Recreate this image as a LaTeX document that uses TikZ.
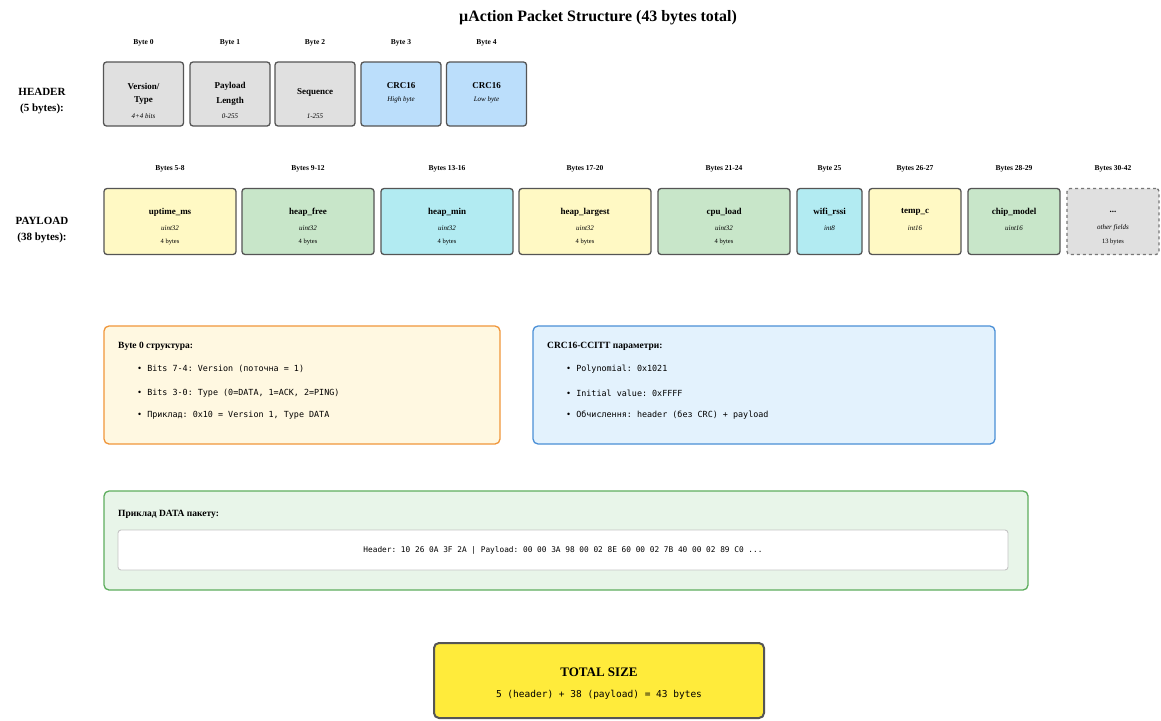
\documentclass[tikz,border=0pt]{standalone}
\usepackage{fontspec}
\setmainfont{Liberation Serif}
\setmonofont{DejaVu Sans Mono}
\begin{document}
\begin{tikzpicture}[x=1pt,y=-1pt,
  field/.style={draw=boxborder, line width=1.3pt, rounded corners=3pt, inner sep=0pt},
  hfield/.style={field, minimum width=80pt, minimum height=64pt},
  pfield/.style={field, minimum height=66pt},
  bytelbl/.style={font=\bfseries\fontsize{7.5}{8}\selectfont, inner sep=0pt},
  fname/.style={font=\bfseries\fontsize{9}{10}\selectfont, inner sep=0pt},
  ftype/.style={font=\itshape\fontsize{7}{8}\selectfont, inner sep=0pt},
  fsize/.style={font=\fontsize{6.5}{7}\selectfont, inner sep=0pt},
  rowlbl/.style={font=\bfseries\fontsize{11}{16}\selectfont, align=center, inner sep=0pt},
  infobox/.style={rounded corners=5pt, line width=1.3pt, inner sep=0pt},
  infotitle/.style={font=\bfseries\fontsize{9.5}{11}\selectfont, anchor=west, inner sep=0pt},
  bullet/.style={font=\ttfamily\fontsize{8.4}{10}\selectfont, anchor=west, inner sep=0pt},
]
\definecolor{boxborder}{HTML}{555555}
\definecolor{greyfill}{HTML}{E0E0E0}
\definecolor{bluefill}{HTML}{BBDEFB}
\definecolor{yellowfill}{HTML}{FFF9C4}
\definecolor{greenfill}{HTML}{C8E6C9}
\definecolor{cyanfill}{HTML}{B2EBF2}
\definecolor{creamfill}{HTML}{FFF8E1}
\definecolor{orangeborder}{HTML}{F0963A}
\definecolor{lightblue}{HTML}{E3F2FD}
\definecolor{blueborder}{HTML}{4A8FD6}
\definecolor{lightgreen}{HTML}{E8F5E9}
\definecolor{greenborder}{HTML}{5EAE5E}
\definecolor{codeborder}{HTML}{C4C4C4}
\definecolor{totalfill}{HTML}{FFEB3B}

\useasboundingbox[fill=white] (0,0) rectangle (1161,720);

% title
\node[font=\bfseries\fontsize{15.9}{18}\selectfont, inner sep=0pt] (title) at (598,18) {µAction Packet Structure (43 bytes total)};

% ---- header row ----
\node[rowlbl] (hdrlbl) at (42,101) {HEADER\\(5 bytes):};

\node[hfield, fill=greyfill] (h0) at (143.5,94) {};
\node[hfield, fill=greyfill] (h1) at (230,94) {};
\node[hfield, fill=greyfill] (h2) at (315,94) {};
\node[hfield, fill=bluefill] (h3) at (401,94) {};
\node[hfield, fill=bluefill] (h4) at (486.5,94) {};

\foreach \n/\t in {h0/Byte 0, h1/Byte 1, h2/Byte 2, h3/Byte 3, h4/Byte 4}
  \node[bytelbl] (\n-lbl) at (\n.center |- 0,43) {\t};

% text lines inside the header fields (yshift is upward)
\node[fname] (h0-a) at ([yshift=8pt]h0.center) {Version/};
\node[fname] (h0-b) at ([yshift=-7pt]h0.center) {Type};
\node[ftype] (h0-c) at ([yshift=-22pt]h0.center) {4+4 bits};
\node[fname] (h1-a) at ([yshift=8pt]h1.center) {Payload};
\node[fname] (h1-b) at ([yshift=-7pt]h1.center) {Length};
\node[ftype] (h1-c) at ([yshift=-22pt]h1.center) {0-255};
\node[fname] (h2-a) at ([yshift=2pt]h2.center) {Sequence};
\node[ftype] (h2-c) at ([yshift=-22pt]h2.center) {1-255};
\node[fname] (h3-a) at ([yshift=8pt]h3.center) {CRC16};
\node[ftype] (h3-b) at ([yshift=-6pt]h3.center) {High byte};
\node[fname] (h4-a) at ([yshift=8pt]h4.center) {CRC16};
\node[ftype] (h4-b) at ([yshift=-6pt]h4.center) {Low byte};

% ---- payload row ----
\node[rowlbl] (pldlbl) at (42,230) {PAYLOAD\\(38 bytes):};

\foreach \n/\x/\w/\c/\lbl/\nm/\ty/\sz in {
    p0/170/132/yellowfill/Bytes 5-8/uptime\_ms/uint32/4 bytes,
    p1/308/132/greenfill/Bytes 9-12/heap\_free/uint32/4 bytes,
    p2/447/132/cyanfill/Bytes 13-16/heap\_min/uint32/4 bytes,
    p3/585/132/yellowfill/Bytes 17-20/heap\_largest/uint32/4 bytes,
    p4/724/132/greenfill/Bytes 21-24/cpu\_load/uint32/4 bytes,
    p5/829.5/65/cyanfill/Byte 25/wifi\_rssi/int8/,
    p6/915/92/yellowfill/Bytes 26-27/temp\_c/int16/,
    p7/1014/92/greenfill/Bytes 28-29/chip\_model/uint16/}
{
  \node[pfield, fill=\c, minimum width=\w pt] (\n) at (\x,221.5) {};
  \node[bytelbl] (\n-lbl) at (\x,169) {\lbl};
  \node[fname] (\n-name) at (\x,212) {\nm};
  \node[ftype] (\n-type) at (\x,228) {\ty};
  \node[fsize] (\n-size) at (\x,242) {\sz};
}
\node[pfield, fill=greyfill, dashed, draw=boxborder!80, minimum width=92pt] (p8) at (1113,221.5) {};
\node[bytelbl] (p8-lbl) at (1113,169) {Bytes 30-42};
\node[fname] (p8-name) at (1113,212) {...};
\node[ftype] (p8-type) at (1113,228) {other fields};
\node[fsize] (p8-size) at (1113,242) {13 bytes};

% ---- byte 0 notes ----
\node[infobox, draw=orangeborder, fill=creamfill, minimum width=396pt, minimum height=118pt] (b0box) at (302,385) {};
\node[infotitle] (b0title) at (118,346) {Byte 0 структура:};
\node[bullet] (b0i1) at (137,369) {•\ Bits 7-4: Version (поточна = 1)};
\node[bullet] (b0i2) at (137,393) {•\ Bits 3-0: Type (0=DATA, 1=ACK, 2=PING)};
\node[bullet] (b0i3) at (137,415) {•\ Приклад: 0x10 = Version 1, Type DATA};

% ---- CRC notes ----
\node[infobox, draw=blueborder, fill=lightblue, minimum width=462pt, minimum height=118pt] (crcbox) at (764,385) {};
\node[infotitle] (crctitle) at (547,346) {CRC16-CCITT параметри:};
\node[bullet] (crci1) at (566,369) {•\ Polynomial: 0x1021};
\node[bullet] (crci2) at (566,393) {•\ Initial value: 0xFFFF};
\node[bullet] (crci3) at (566,415) {•\ Обчислення: header (без CRC) + payload};

% ---- example packet ----
\node[infobox, draw=greenborder, fill=lightgreen, minimum width=924pt, minimum height=99pt] (exbox) at (566,540.5) {};
\node[infotitle] (extitle) at (118,514) {Приклад DATA пакету:};
\node[draw=codeborder, fill=white, rounded corners=3pt, line width=0.9pt, minimum width=890pt, minimum height=40pt, inner sep=0pt] (code) at (563,550) {};
\node[font=\ttfamily\fontsize{7.8}{9}\selectfont, inner sep=0pt] (codetext) at (code.center) {Header: 10 26 0A 3F 2A | Payload: 00 00 3A 98 00 02 8E 60 00 02 7B 40 00 02 89 C0 ...};

% ---- total ----
\node[draw=boxborder, line width=2pt, rounded corners=5pt, fill=totalfill, minimum width=330pt, minimum height=75pt, inner sep=0pt] (total) at (599,680.5) {};
\node[font=\bfseries\fontsize{13}{15}\selectfont, inner sep=0pt] (totaltitle) at (599,672) {TOTAL SIZE};
\node[font=\ttfamily\fontsize{9.5}{11}\selectfont, inner sep=0pt] (totalline) at (599,695) {5 (header) + 38 (payload) = 43 bytes};
\end{tikzpicture}
\end{document}
